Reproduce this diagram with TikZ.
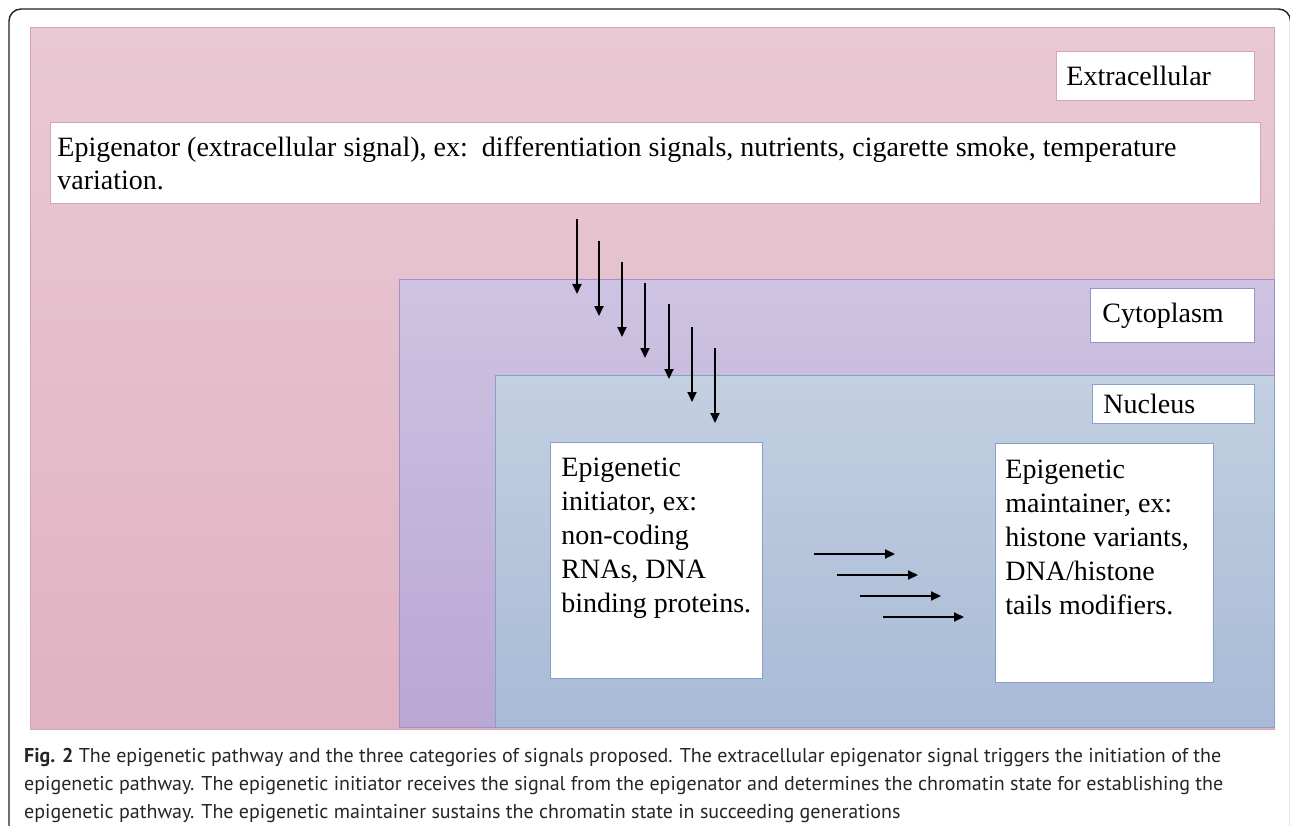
\documentclass[tikz,border=0pt]{standalone}
\usepackage{fontspec}
\setmainfont{Liberation Serif}
\newfontfamily\capfont{PT Sans}
\usetikzlibrary{arrows.meta}
\definecolor{pinkTop}{HTML}{E9C9D4}
\definecolor{pinkBot}{HTML}{E0B2C2}
\definecolor{pinkLine}{HTML}{D7A3B6}
\definecolor{purTop}{HTML}{CEC3E2}
\definecolor{purBot}{HTML}{B9A7D4}
\definecolor{purLine}{HTML}{9F90CD}
\definecolor{bluTop}{HTML}{C3D0E1}
\definecolor{bluBot}{HTML}{A8BAD6}
\definecolor{bluLine}{HTML}{86A0CB}
\definecolor{frameCol}{HTML}{222222}
\newcommand{\cellbox}[5]{\parbox[c][#2pt][#3]{#1pt}{\leftskip=#4pt\rightskip=0pt plus 1fil\parindent=0pt\parfillskip=0pt plus 1fil #5}}
\begin{document}
\begin{tikzpicture}[x=1pt,y=-1pt,
  region/.style={anchor=north west,inner sep=0pt,line width=0.8pt},
  whitebox/.style={anchor=north west,inner sep=0pt,fill=white,line width=0.8pt},
  bodytext/.style={font=\fontsize{28}{34}\selectfont},
  sig/.style={line width=2pt,draw=black,-{Triangle[length=10pt,width=9pt]}}]
\useasboundingbox (0,0) rectangle (1290,826);
\fill[white] (0,0) rectangle (1290,826);
% frame
\draw[frameCol,line width=1.4pt] (9,830) -- (9,21) arc[start angle=180,end angle=270,radius=12] -- (1278.5,9) arc[start angle=270,end angle=360,radius=12] -- (1290.5,830);
% regions
\node[region,draw=pinkLine,top color=pinkTop,bottom color=pinkBot,minimum width=1244pt,minimum height=702pt] (extra) at (30,27) {};
\node[region,draw=purLine,top color=purTop,bottom color=purBot,minimum width=875pt,minimum height=448pt] (cyto) at (399,279) {};
\node[region,draw=bluLine,top color=bluTop,bottom color=bluBot,minimum width=779pt,minimum height=352pt] (nuc) at (495,375) {};
% labels
\node[whitebox,draw=pinkLine,bodytext] (lextra) at (1056,51) {\cellbox{198}{49}{c}{10}{Extracellular}};
\node[whitebox,draw=purLine,bodytext] (lcyto) at (1090,288) {\cellbox{164}{54}{c}{12}{Cytoplasm}};
\node[whitebox,draw=bluLine,bodytext] (lnuc) at (1092,384) {\cellbox{162}{39}{c}{11}{Nucleus}};
% content boxes
\node[whitebox,draw=pinkLine,bodytext] (epigenator) at (50,122) {\cellbox{1210}{81}{c}{7}{\fontsize{28}{33}\selectfont Epigenator (extracellular signal), ex:\ \ differentiation signals, nutrients, cigarette smoke, temperature\\variation.}};
\node[whitebox,draw=bluLine,bodytext] (initiator) at (550,442) {\cellbox{212}{236}{t}{11}{\vspace*{16pt}Epigenetic\\initiator, ex:\\non-coding\\RNAs, DNA\\binding proteins.}};
\node[whitebox,draw=bluLine,bodytext] (maintainer) at (995,443) {\cellbox{218}{239}{t}{10}{\vspace*{17pt}Epigenetic\\maintainer, ex:\\histone variants,\\DNA/histone\\tails modifiers.}};
% vertical signal arrows
\foreach \i/\x/\y in {1/577/219,2/599/241,3/622/262,4/645/283,5/669/304,6/692/327,7/715/348}{
  \coordinate (vs\i) at (\x,\y);
  \coordinate (ve\i) at (\x,\y+75);
  \draw[sig] (vs\i) -- (ve\i);
}
% horizontal signal arrows
\foreach \i/\x/\y in {1/814/554,2/837/575,3/860/596,4/883/617}{
  \coordinate (hs\i) at (\x,\y);
  \coordinate (he\i) at (\x+81,\y);
  \draw[sig] (hs\i) -- (he\i);
}
% caption
\node[anchor=north west,inner sep=0pt,align=left,font=\capfont\fontsize{20}{28}\selectfont,text=black!85] (caption) at (24,748) {\textbf{Fig. 2} The epigenetic pathway and the three categories of signals proposed. The extracellular epigenator signal triggers the initiation of the\\epigenetic pathway. The epigenetic initiator receives the signal from the epigenator and determines the chromatin state for establishing the\\epigenetic pathway. The epigenetic maintainer sustains the chromatin state in succeeding generations};
\end{tikzpicture}
\end{document}
